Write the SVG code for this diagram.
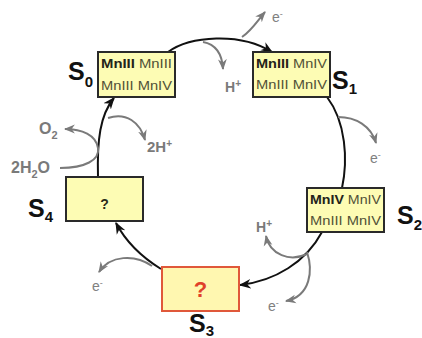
<svg xmlns="http://www.w3.org/2000/svg" width="422" height="338" viewBox="0 0 422 338">
  <defs>
    <marker id="arrBlack" viewBox="0 0 10 10" refX="9" refY="5" markerWidth="6" markerHeight="6" orient="auto" markerUnits="strokeWidth">
      <path d="M0,1 L10,5 L0,9 L3,5 z" fill="#111"/>
    </marker>
    <marker id="arrGray" viewBox="0 0 10 10" refX="9" refY="5" markerWidth="5.5" markerHeight="5.5" orient="auto" markerUnits="strokeWidth">
      <path d="M0,1 L10,5 L0,9 L3,5 z" fill="#7a7a7a"/>
    </marker>
  </defs>
  <style>
    .box { fill: #fdfcb4; stroke: #2a2a2a; stroke-width: 2; }
    .box3 { fill: #fff7b0; stroke: #e0583a; stroke-width: 2; }
    .mn { font-family: "Liberation Sans", Arial, sans-serif; font-size: 12.5px; fill: #505036; }
    .mnb { font-weight: bold; fill: #24241a; }
    .s { font-family: "Liberation Sans", Arial, sans-serif; font-weight: bold; font-size: 25px; fill: #111; }
    .sub { font-size: 15px; }
    .q { font-family: "Liberation Sans", Arial, sans-serif; font-weight: bold; text-anchor: middle; }
    .main { fill: none; stroke: #111; stroke-width: 2; marker-end: url(#arrBlack); }
    .main-plain { fill: none; stroke: #111; stroke-width: 2; }
    .side { fill: none; stroke: #7a7a7a; stroke-width: 2; marker-end: url(#arrGray); }
    .lbl { font-family: "Liberation Sans", Arial, sans-serif; font-weight: bold; fill: #7a7a7a; }
    .e { font-family: "Liberation Sans", Arial, sans-serif; font-size: 14px; fill: #808080; }
  </style>

  <!-- cycle connectors and side reactions -->
  <g id="connectors">
    <path class="main" d="M168,52 C190,36 240,32 272,52"/>
    <path class="main-plain" d="M327,97 C346,122 348,160 342,188"/>
    <path class="main" d="M322,232 C306,262 275,281 240,285"/>
    <path class="main" d="M161,269 C140,256 125,240 116,223"/>
    <path class="main" d="M98,177 C97,140 100,115 114,98"/>

    <path class="side" d="M242,37 C252,30 258,20 265,12"/>
    <path class="side" d="M203,42 C214,44 222,52 223,69"/>
    <path class="side" d="M338,117 C356,117 371,126 376,143"/>
    <path class="side" d="M307,254 C290,262 270,255 266,236"/>
    <path class="side" d="M307,252 C313,270 311,296 286,301"/>
    <path class="side" d="M152,266 C135,254 110,255 99,272"/>
    <path class="side" d="M60,168 C85,168 100,160 98,148 C96,135 82,129 65,129"/>
    <path class="side" d="M108,118 C126,112 140,122 145,140"/>
  </g>

  <!-- side reaction labels -->
  <g id="labels">
    <text class="e" x="272" y="22">e<tspan dy="-5" font-size="9">-</tspan></text>
    <text class="lbl" x="225" y="92" font-size="14">H<tspan dy="-5" font-size="10">+</tspan></text>
    <text class="e" x="370" y="163">e<tspan dy="-5" font-size="9">-</tspan></text>
    <text class="lbl" x="256" y="232" font-size="14">H<tspan dy="-5" font-size="10">+</tspan></text>
    <text class="e" x="268" y="311">e<tspan dy="-5" font-size="9">-</tspan></text>
    <text class="e" x="92" y="291">e<tspan dy="-5" font-size="9">-</tspan></text>
    <text class="lbl" x="147" y="152" font-size="15">2H<tspan dy="-5" font-size="10">+</tspan></text>
    <text class="lbl" x="39" y="134" font-size="16">O<tspan dy="5" font-size="11">2</tspan></text>
    <text class="lbl" x="11" y="173" font-size="16">2H<tspan dy="5" font-size="11">2</tspan><tspan dy="-5">O</tspan></text>
  </g>

  <g id="S0">
    <rect class="box" x="98" y="52" width="77" height="45"/>
    <text class="mn" x="101" y="68" textLength="71" lengthAdjust="spacingAndGlyphs"><tspan class="mnb">MnIII</tspan> MnIII</text>
    <text class="mn" x="101" y="90" textLength="71" lengthAdjust="spacingAndGlyphs">MnIII MnIV</text>
    <text class="s" x="68" y="80">S<tspan class="sub" dy="7">0</tspan></text>
  </g>

  <g id="S1">
    <rect class="box" x="253" y="52" width="77" height="45"/>
    <text class="mn" x="256" y="68" textLength="71" lengthAdjust="spacingAndGlyphs"><tspan class="mnb">MnIII</tspan> MnIV</text>
    <text class="mn" x="256" y="89" textLength="71" lengthAdjust="spacingAndGlyphs">MnIII MnIV</text>
    <text class="s" x="332" y="89">S<tspan class="sub" dy="5">1</tspan></text>
  </g>

  <g id="S2">
    <rect class="box" x="307" y="188" width="77" height="44"/>
    <text class="mn" x="310" y="204" textLength="71" lengthAdjust="spacingAndGlyphs"><tspan class="mnb">MnIV</tspan> MnIV</text>
    <text class="mn" x="310" y="225" textLength="71" lengthAdjust="spacingAndGlyphs">MnIII MnIV</text>
    <text class="s" x="397" y="224">S<tspan class="sub" dy="6">2</tspan></text>
  </g>

  <g id="S3">
    <rect class="box3" x="162" y="267" width="77" height="44"/>
    <text class="q" x="200.5" y="297" font-size="22" fill="#e0412a">?</text>
    <text class="s" x="189" y="332">S<tspan class="sub" dy="4">3</tspan></text>
  </g>

  <g id="S4">
    <rect class="box" x="66" y="177" width="77" height="44"/>
    <text class="q" x="104.5" y="209" font-size="14" fill="#2a2a1a">?</text>
    <text class="s" x="28" y="217">S<tspan class="sub" dy="5">4</tspan></text>
  </g>
</svg>
